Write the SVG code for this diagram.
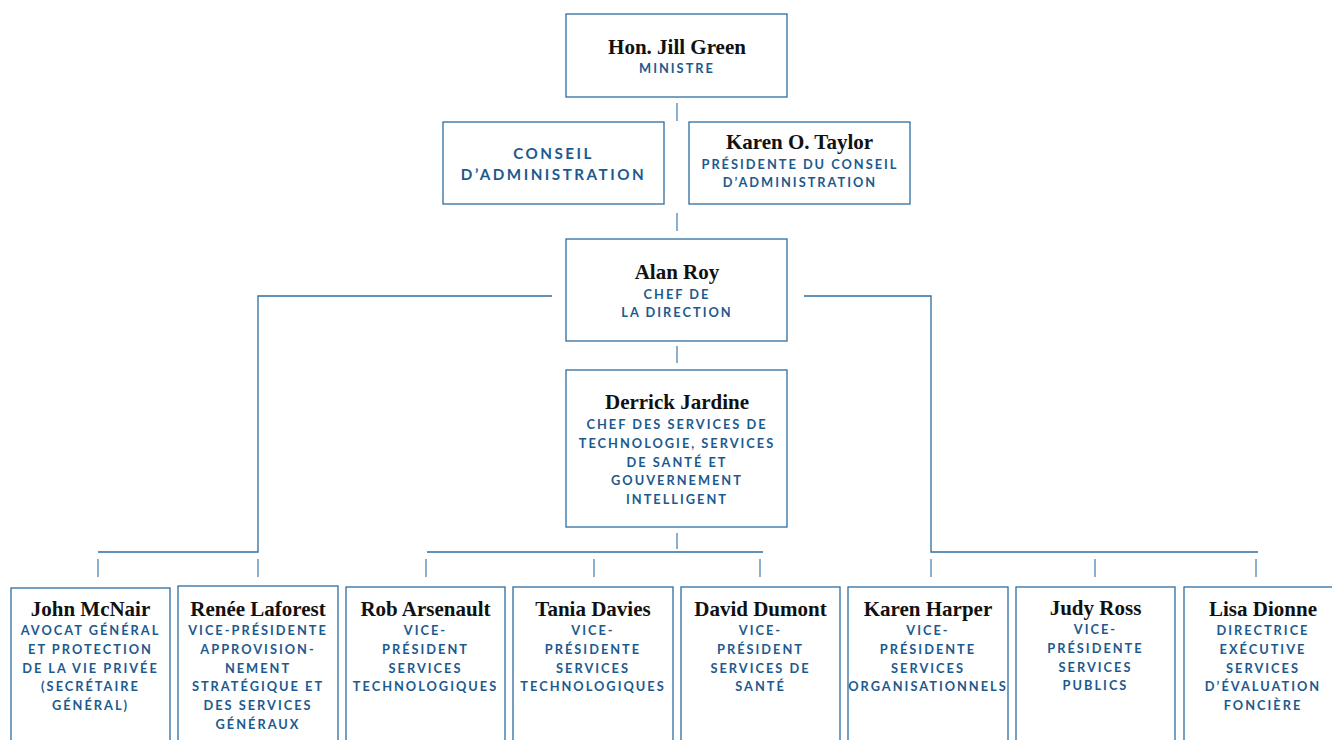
<svg xmlns="http://www.w3.org/2000/svg" width="1332" height="740" viewBox="0 0 1332 740">
<style>
.box{fill:#ffffff;stroke:#2f6c9e;stroke-width:1.3}
.ln{fill:none;stroke:#2f6c9e;stroke-width:1.3}
.tk{fill:none;stroke:#6f9cc3;stroke-width:1.6}
.nm{font-family:"Liberation Serif","Times New Roman",serif;font-weight:bold;font-size:21px;fill:#111111;text-anchor:middle}
.rl{font-family:Lato,"Liberation Sans",sans-serif;font-weight:bold;font-size:12.8px;letter-spacing:2px;fill:#1c5a8e;text-anchor:middle}
.big{font-size:15.2px;letter-spacing:2.5px}
</style>
<rect width="1332" height="740" fill="#ffffff"/>
<g id="connectors">
<line class="tk" x1="677" y1="103" x2="677" y2="121"/>
<line class="tk" x1="677" y1="213" x2="677" y2="231"/>
<line class="tk" x1="677" y1="346" x2="677" y2="363"/>
<line class="tk" x1="677" y1="533" x2="677" y2="549"/>
<polyline class="ln" points="552,296 258,296 258,552 98,552"/>
<line class="ln" x1="427" y1="552" x2="763" y2="552"/>
<polyline class="ln" points="804,296 931,296 931,552 1258,552"/>
<line class="tk" x1="98" y1="559" x2="98" y2="577"/>
<line class="tk" x1="258" y1="559" x2="258" y2="577"/>
<line class="tk" x1="426" y1="559" x2="426" y2="577"/>
<line class="tk" x1="594" y1="559" x2="594" y2="577"/>
<line class="tk" x1="760" y1="559" x2="760" y2="577"/>
<line class="tk" x1="931" y1="559" x2="931" y2="577"/>
<line class="tk" x1="1095" y1="559" x2="1095" y2="577"/>
<line class="tk" x1="1256" y1="559" x2="1256" y2="577"/>
</g>
<g id="ministre">
<rect class="box" x="566" y="14" width="221" height="83"/>
<text class="nm" x="677" y="54">Hon. Jill Green</text>
<text class="rl" x="677" y="73">MINISTRE</text>
</g>
<g id="conseil">
<rect class="box" x="443" y="122" width="221" height="82"/>
<text class="rl big" x="553.5" y="159">CONSEIL</text>
<text class="rl big" x="553.5" y="180">D’ADMINISTRATION</text>
</g>
<g id="taylor">
<rect class="box" x="689" y="122" width="221" height="82"/>
<text class="nm" x="799.5" y="149">Karen O. Taylor</text>
<text class="rl" x="800" y="169">PRÉSIDENTE DU CONSEIL</text>
<text class="rl" x="800" y="187">D’ADMINISTRATION</text>
</g>
<g id="roy">
<rect class="box" x="566" y="239" width="221" height="102"/>
<text class="nm" x="677" y="279">Alan Roy</text>
<text class="rl" x="677" y="299">CHEF DE</text>
<text class="rl" x="677" y="317">LA DIRECTION</text>
</g>
<g id="jardine">
<rect class="box" x="566" y="370" width="221" height="157"/>
<text class="nm" x="677" y="409">Derrick Jardine</text>
<text class="rl" x="677" y="429">CHEF DES SERVICES DE</text>
<text class="rl" x="677" y="448">TECHNOLOGIE, SERVICES</text>
<text class="rl" x="677" y="466.5">DE SANTÉ ET</text>
<text class="rl" x="677" y="485">GOUVERNEMENT</text>
<text class="rl" x="677" y="503.5">INTELLIGENT</text>
</g>
<g id="mcnair">
<rect class="box" x="11" y="588" width="159" height="170"/>
<text class="nm" x="90.5" y="616">John McNair</text>
<text class="rl" x="90.5" y="635">AVOCAT GÉNÉRAL</text>
<text class="rl" x="90.5" y="654">ET PROTECTION</text>
<text class="rl" x="90.5" y="672.5">DE LA VIE PRIVÉE</text>
<text class="rl" x="90.5" y="691">(SECRÉTAIRE</text>
<text class="rl" x="90.5" y="710">GÉNÉRAL)</text>
</g>
<g id="laforest">
<rect class="box" x="178" y="586" width="160" height="172"/>
<text class="nm" x="258" y="616">Renée Laforest</text>
<text class="rl" x="258" y="635">VICE-PRÉSIDENTE</text>
<text class="rl" x="258" y="654">APPROVISION-</text>
<text class="rl" x="258" y="672.5">NEMENT</text>
<text class="rl" x="258" y="691">STRATÉGIQUE ET</text>
<text class="rl" x="258" y="710">DES SERVICES</text>
<text class="rl" x="258" y="728.5">GÉNÉRAUX</text>
</g>
<g id="arsenault">
<rect class="box" x="346" y="587" width="159" height="171"/>
<text class="nm" x="425.5" y="616">Rob Arsenault</text>
<text class="rl" x="425.5" y="635">VICE-</text>
<text class="rl" x="425.5" y="654">PRÉSIDENT</text>
<text class="rl" x="425.5" y="672.5">SERVICES</text>
<text class="rl" x="425.5" y="691">TECHNOLOGIQUES</text>
</g>
<g id="davies">
<rect class="box" x="513" y="587" width="160" height="171"/>
<text class="nm" x="593" y="616">Tania Davies</text>
<text class="rl" x="593" y="635">VICE-</text>
<text class="rl" x="593" y="654">PRÉSIDENTE</text>
<text class="rl" x="593" y="672.5">SERVICES</text>
<text class="rl" x="593" y="691">TECHNOLOGIQUES</text>
</g>
<g id="dumont">
<rect class="box" x="681" y="587" width="159" height="171"/>
<text class="nm" x="760.5" y="616">David Dumont</text>
<text class="rl" x="760.5" y="635">VICE-</text>
<text class="rl" x="760.5" y="654">PRÉSIDENT</text>
<text class="rl" x="760.5" y="672.5">SERVICES DE</text>
<text class="rl" x="760.5" y="691">SANTÉ</text>
</g>
<g id="harper">
<rect class="box" x="848" y="587" width="160" height="171"/>
<text class="nm" x="928" y="616">Karen Harper</text>
<text class="rl" x="928" y="635">VICE-</text>
<text class="rl" x="928" y="654">PRÉSIDENTE</text>
<text class="rl" x="928" y="672.5">SERVICES</text>
<text class="rl" x="928" y="691">ORGANISATIONNELS</text>
</g>
<g id="ross">
<rect class="box" x="1016" y="587" width="159" height="171"/>
<text class="nm" x="1095.5" y="615">Judy Ross</text>
<text class="rl" x="1095.5" y="634">VICE-</text>
<text class="rl" x="1095.5" y="653">PRÉSIDENTE</text>
<text class="rl" x="1095.5" y="671.5">SERVICES</text>
<text class="rl" x="1095.5" y="690">PUBLICS</text>
</g>
<g id="dionne">
<rect class="box" x="1184" y="587" width="160" height="171"/>
<text class="nm" x="1263" y="616">Lisa Dionne</text>
<text class="rl" x="1263" y="635">DIRECTRICE</text>
<text class="rl" x="1263" y="654">EXÉCUTIVE</text>
<text class="rl" x="1263" y="672.5">SERVICES</text>
<text class="rl" x="1263" y="691">D’ÉVALUATION</text>
<text class="rl" x="1263" y="710">FONCIÈRE</text>
</g>
</svg>
